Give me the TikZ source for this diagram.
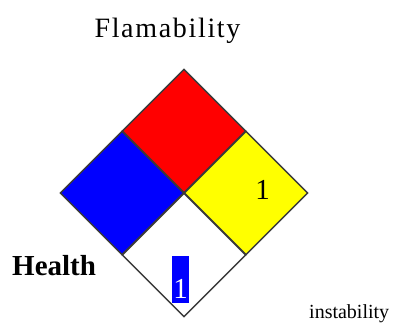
\documentclass[tikz,border=0pt]{standalone}
\usepackage{fontspec}
\setmainfont{Liberation Serif}
\newfontfamily\trackedserif[LetterSpace=6]{Liberation Serif}
\usetikzlibrary{shapes.geometric}
\definecolor{healthblue}{HTML}{0000FF}
\definecolor{firered}{HTML}{FF0000}
\definecolor{reactyellow}{HTML}{FFFF00}
\definecolor{edgegray}{HTML}{3A3A3A}

\begin{document}
\begin{tikzpicture}[
    x=1pt, y=-1pt,
    quad/.style={
        diamond,
        draw=edgegray,
        line width=1.4pt,
        minimum width=124pt,
        minimum height=124pt,
        inner sep=0pt
    },
    rating/.style={
        font=\fontsize{29}{30}\selectfont,
        inner sep=0pt,
        anchor=base
    },
    caption/.style={
        inner sep=0pt
    }
]
\useasboundingbox (0,0) rectangle (395,322);

% Quadrants of the hazard diamond
\node[quad, fill=firered] (flam) at (184,131) {};
\node[quad, fill=healthblue] (hlth) at (122,193) {};
\node[quad, fill=reactyellow] (inst) at (246,193) {};
\node[quad, fill=white] (spec) at (184,255) {};

% Ratings
\node[rating] (instval) at (262.5,199) {1};
\node[rating, fill=healthblue, text=white, minimum width=17pt,
      text height=42pt, text depth=5pt] (specval) at (180.5,298) {1};

% Captions
\node[caption, anchor=base, font=\trackedserif\fontsize{28}{30}\selectfont]
    (flamtxt) at (167.5,37) {Flamability};
\node[caption, anchor=base west, font=\fontsize{29}{30}\selectfont\bfseries]
    (hlthtxt) at (12,275) {Health};
\node[caption, anchor=base west, font=\fontsize{20}{22}\selectfont]
    (insttxt) at (309,318) {instability};

\end{tikzpicture}
\end{document}
